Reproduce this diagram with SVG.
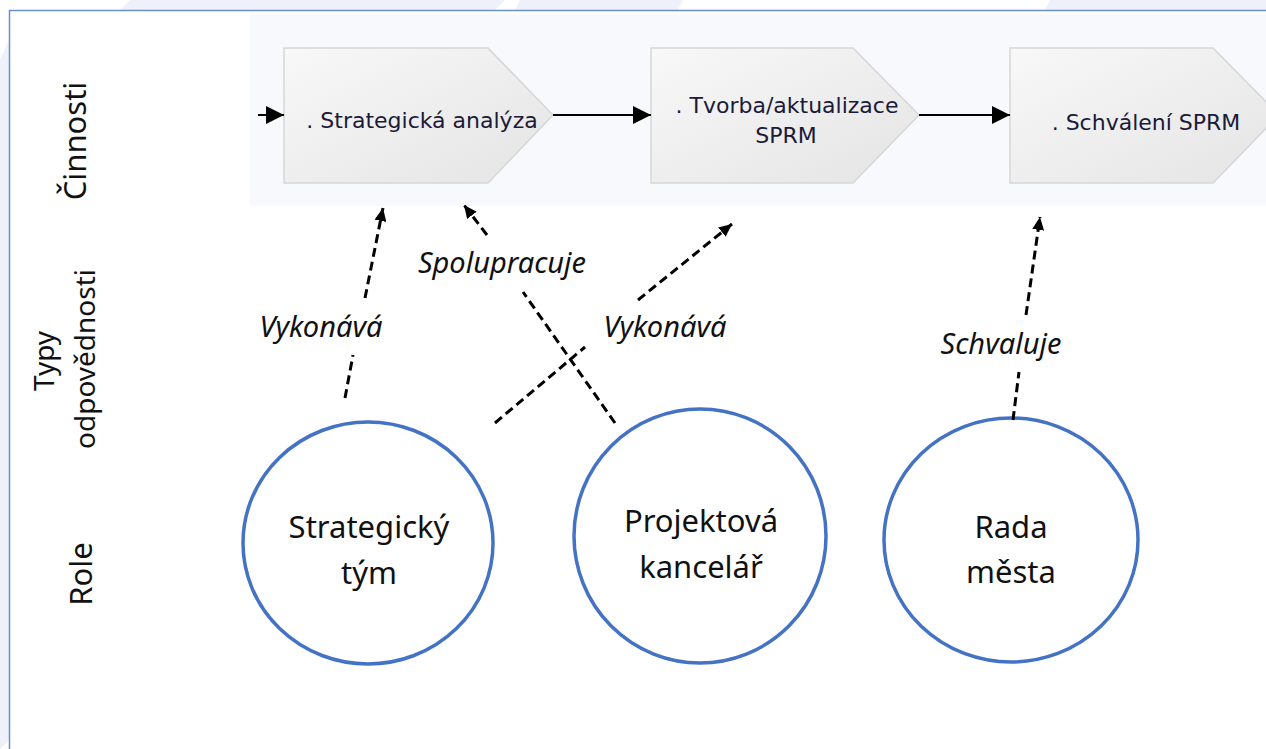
<svg xmlns="http://www.w3.org/2000/svg" width="1266" height="749" viewBox="0 0 1266 749">
  <style>
    .lane { font-family: "Noto Sans", "Open Sans", sans-serif; font-size: 31px; fill: #111; }
    .lane-sm { font-size: 28px; }
    .act { font-family: "DejaVu Sans", "Liberation Sans", sans-serif; font-size: 22px; fill: #1a1a3a; text-anchor: middle; }
    .role-shape { fill: #ffffff; stroke: #4472c4; stroke-width: 3.5; }
    .role-text { font-family: "Noto Sans", "Open Sans", sans-serif; font-size: 31px; fill: #111; text-anchor: middle; }
    .rel { stroke: #000; stroke-width: 3; stroke-dasharray: 9 5; fill: none; }
    .rel-head { marker-end: url(#dashHead); }
    .flow { stroke: #000; stroke-width: 2; fill: none; marker-end: url(#flowHead); }
    .rel-label { font-family: "Noto Sans", "Open Sans", sans-serif; font-style: italic; font-size: 29px; fill: #111; text-anchor: middle; }
    .step { fill: url(#stepFill); stroke: #d6d6d6; stroke-width: 1.5; }
  </style>
  <defs>
    <linearGradient id="stepFill" x1="0" y1="0" x2="1" y2="1">
      <stop offset="0" stop-color="#f8f8f8"/>
      <stop offset="1" stop-color="#e4e4e4"/>
    </linearGradient>
    <marker id="flowHead" markerUnits="userSpaceOnUse" markerWidth="20" markerHeight="18" refX="18" refY="9" orient="auto">
      <path d="M0,0 L18,9 L0,18 Z" fill="#000"/>
    </marker>
    <marker id="dashHead" markerUnits="userSpaceOnUse" markerWidth="14" markerHeight="12" refX="13" refY="6" orient="auto">
      <path d="M0,0 L13,6 L0,12 Z" fill="#000"/>
    </marker>
  </defs>

  <!-- page background and slide frame -->
  <rect x="0" y="0" width="1266" height="749" fill="#ffffff"/>
  <polygon points="130,0 505,0 495,10 120,10" fill="#eef0fa"/>
  <polygon points="520,0 683,0 678,10 515,10" fill="#eef0fa"/>
  <polygon points="1050,0 1266,0 1266,10 1045,10" fill="#eef0fa"/>
  <polygon points="0,60 9,40 9,740 0,749" fill="#eef0fa"/>
  <line x1="9" y1="10.5" x2="1266" y2="10.5" stroke="#6a8fcf" stroke-width="1.5"/>
  <line x1="9.5" y1="10" x2="9.5" y2="749" stroke="#6a8fcf" stroke-width="1.5"/>

  <!-- activity band -->
  <rect x="250" y="14" width="1016" height="192" fill="#f7f9fd"/>

  <!-- lane labels -->
  <text class="lane" transform="translate(86,141) rotate(-90)" text-anchor="middle">Činnosti</text>
  <text class="lane lane-sm" transform="translate(54,361) rotate(-90)" text-anchor="middle">Typy</text>
  <text class="lane lane-sm" transform="translate(95,359) rotate(-90)" text-anchor="middle">odpovědnosti</text>
  <text class="lane" transform="translate(92,574) rotate(-90)" text-anchor="middle">Role</text>

  <!-- activities -->
  <g id="step-analyza">
    <polygon class="step" points="284,48 488,48 553,115 488,183 284,183"/>
    <text class="act" x="422" y="128">. Strategická analýza</text>
  </g>
  <g id="step-tvorba">
    <polygon class="step" points="651,48 853,48 919,115 853,183 651,183"/>
    <text class="act" x="787" y="113">. Tvorba/aktualizace</text>
    <text class="act" x="786" y="143">SPRM</text>
  </g>
  <g id="step-schvaleni">
    <polygon class="step" points="1010,48 1213,48 1279,115 1213,183 1010,183"/>
    <text class="act" x="1146" y="130">. Schválení SPRM</text>
  </g>

  <!-- roles -->
  <g id="role-strategicky-tym">
    <ellipse class="role-shape" cx="368" cy="543" rx="125" ry="121"/>
    <text class="role-text" x="369" y="538">Strategický</text>
    <text class="role-text" x="369" y="584">tým</text>
  </g>
  <g id="role-projektova-kancelar">
    <ellipse class="role-shape" cx="700" cy="536" rx="126" ry="127"/>
    <text class="role-text" x="701" y="532">Projektová</text>
    <text class="role-text" x="701" y="578">kancelář</text>
  </g>
  <g id="role-rada-mesta">
    <ellipse class="role-shape" cx="1011" cy="540" rx="127" ry="122"/>
    <text class="role-text" x="1011" y="538">Rada</text>
    <text class="role-text" x="1011" y="583">města</text>
  </g>

  <!-- connectors -->
  <g id="connectors">
    <line class="flow" x1="258" y1="115" x2="284" y2="115"/>
    <line class="flow" x1="553" y1="115" x2="651" y2="115"/>
    <line class="flow" x1="919" y1="115" x2="1010" y2="115"/>

    <!-- Strategický tým -> Strategická analýza -->
    <line class="rel" x1="345" y1="398" x2="353" y2="355"/>
    <line class="rel rel-head" x1="365" y1="298" x2="383" y2="208"/>
    <text class="rel-label" x="321" y="337">Vykonává</text>

    <!-- Projektová kancelář -> Strategická analýza -->
    <line class="rel" x1="615" y1="423" x2="523" y2="292"/>
    <line class="rel rel-head" x1="487" y1="235" x2="464" y2="205"/>
    <text class="rel-label" x="502" y="273">Spolupracuje</text>

    <!-- Strategický tým -> Tvorba/aktualizace SPRM -->
    <line class="rel" x1="495" y1="423" x2="585" y2="347"/>
    <line class="rel rel-head" x1="638" y1="300" x2="732" y2="224"/>
    <text class="rel-label" x="665" y="337">Vykonává</text>

    <!-- Rada města -> Schválení SPRM -->
    <line class="rel" x1="1013" y1="420" x2="1019" y2="372"/>
    <line class="rel rel-head" x1="1026" y1="315" x2="1040" y2="217"/>
    <text class="rel-label" x="1001" y="354">Schvaluje</text>
  </g>
</svg>
